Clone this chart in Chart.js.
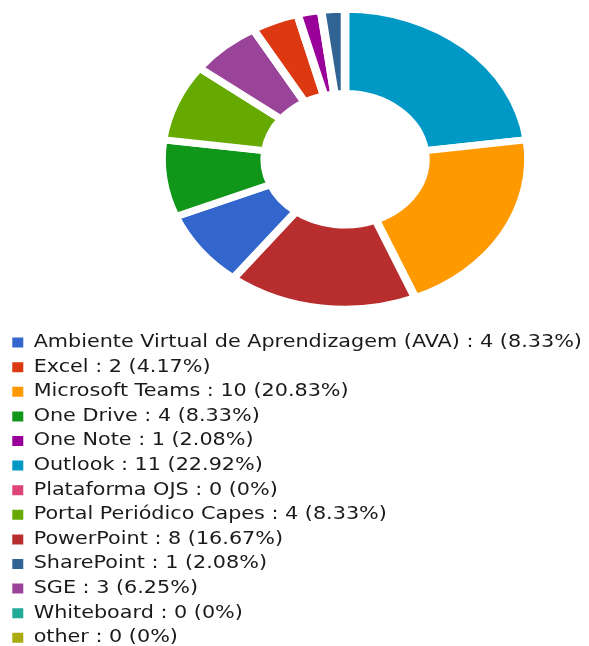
<!DOCTYPE html>
<html>
<head>
<meta charset="utf-8">
<script src="https://cdn.jsdelivr.net/npm/chart.js@4.4.1/dist/chart.umd.min.js"></script>
<style>
  html, body { margin: 0; padding: 0; background: #fff; overflow: hidden; }
</style>
</head>
<body>
<canvas id="chart1" width="589" height="653"></canvas>
<script>
// categorias na ordem da legenda
const categories = [
  'Ambiente Virtual de Aprendizagem (AVA)', 'Excel', 'Microsoft Teams', 'One Drive',
  'One Note', 'Outlook', 'Plataforma OJS', 'Portal Periódico Capes', 'PowerPoint',
  'SharePoint', 'SGE', 'Whiteboard', 'other'
];
const counts = [4, 2, 10, 4, 1, 11, 0, 4, 8, 1, 3, 0, 0];
const colors = [
  '#3366cc', '#dc3912', '#ff9900', '#109618', '#990099', '#0099c6', '#dd4477',
  '#66aa00', '#b82e2e', '#316395', '#994499', '#22aa99', '#aaaa11'
];

const total = counts.reduce((a, b) => a + b, 0);

// fatias desenhadas da maior para a menor (sort estavel)
const order = categories.map((c, i) => i).sort((a, b) => counts[b] - counts[a]);

function legendText(i) {
  const pct = parseFloat((counts[i] / total * 100).toFixed(2));
  // espacos no fim so pra forcar um item por linha
  return categories[i] + ' : ' + counts[i] + ' (' + pct + '%)' + '\u00a0'.repeat(60);
}

// a imagem original esta esticada na horizontal, entao estica legenda e donut
const stretch = {
  id: 'stretch',
  beforeDraw(chart, args, opts) {
    const ctx = chart.ctx;
    ctx.save();
    ctx.translate(opts.legendOrigin, 0);
    ctx.scale(opts.legendScaleX, 1);
    ctx.translate(-opts.legendOrigin, 0);
  },
  beforeDatasetsDraw(chart, args, opts) {
    const arc = chart.getDatasetMeta(0).data[0];
    const ctx = chart.ctx;
    ctx.restore();
    ctx.save();
    ctx.translate(arc.x + opts.shiftX, arc.y + opts.shiftY);
    ctx.scale(opts.scaleX, 1);
    ctx.translate(-arc.x, -arc.y);
  },
  afterDatasetsDraw(chart) {
    chart.ctx.restore();
  }
};

const ctx = document.querySelector('#chart1').getContext('2d');
const chart = new Chart(ctx, {
  type: 'doughnut',
  data: {
    labels: order.map(i => categories[i]),
    datasets: [{
      data: order.map(i => counts[i]),
      backgroundColor: order.map(i => colors[i]),
      borderColor: '#ffffff',
      borderWidth: 7,
      borderJoinStyle: 'miter'
    }]
  },
  options: {
    responsive: false,
    animation: false,
    radius: 150,
    cutout: 70,
    layout: { padding: { left: 5, top: 0, bottom: 0 } },
    plugins: {
      stretch: { scaleX: 1.223, shiftX: 345 - 297, shiftY: -4, legendOrigin: 14, legendScaleX: 1.22 },
      tooltip: { enabled: false },
      legend: {
        position: 'bottom',
        align: 'start',
        labels: {
          boxWidth: 9,
          boxHeight: 10,
          padding: 7.6,
          color: '#1a1a1a',
          font: { family: 'DejaVu Sans', size: 17 },
          generateLabels: () => categories.map((c, i) => ({
            text: legendText(i),
            fillStyle: colors[i],
            strokeStyle: colors[i],
            lineWidth: 0,
            fontColor: '#1a1a1a',
            hidden: false,
            index: order.indexOf(i)
          }))
        }
      }
    }
  },
  plugins: [stretch]
});
</script>
</body>
</html>
